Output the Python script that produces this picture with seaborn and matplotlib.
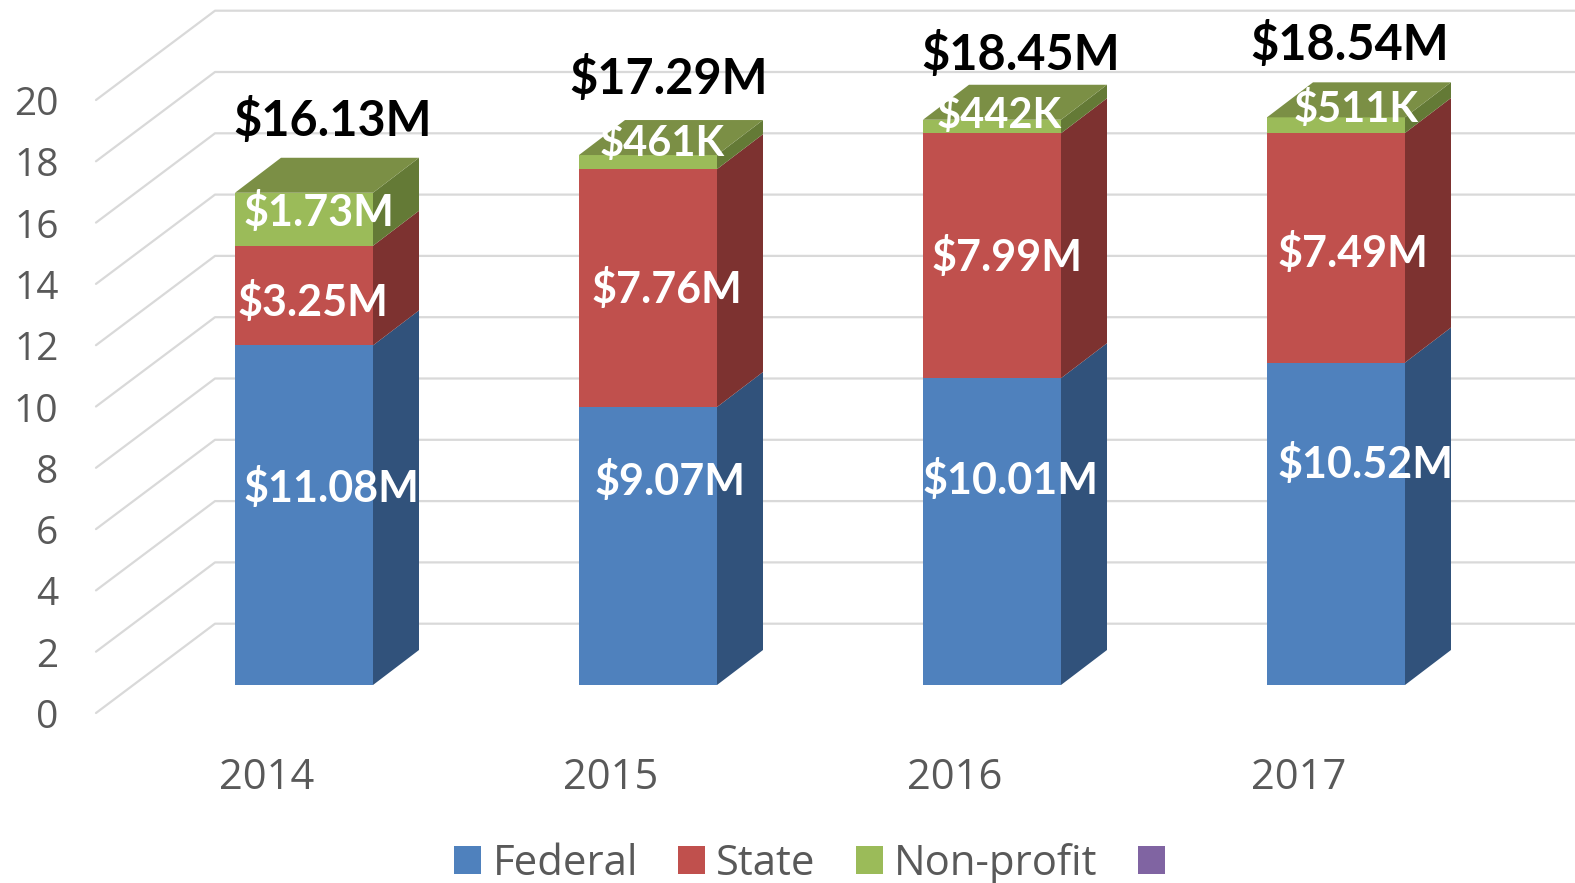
import matplotlib
matplotlib.use('Agg')
import matplotlib.pyplot as plt
from matplotlib.patches import Patch, Polygon
from matplotlib.transforms import ScaledTranslation
import numpy as np
import seaborn as sns

### Data
years = ['2014', '2015', '2016', '2017']
federal = [11.08, 9.07, 10.01, 10.52]
state = [3.25, 7.76, 7.99, 7.49]
nonprofit = [1.73, 0.461, 0.442, 0.511]
federal_labels = ['$11.08M', '$9.07M', '$10.01M', '$10.52M']
state_labels = ['$3.25M', '$7.76M', '$7.99M', '$7.49M']
nonprofit_labels = ['$1.73M', '$461K', '$442K', '$511K']
total_labels = ['$16.13M', '$17.29M', '$18.45M', '$18.54M']
legend_names = ['Federal', 'State', 'Non-profit', '']
y_ticks = [0, 2, 4, 6, 8, 10, 12, 14, 16, 18, 20]

### Layout, in pixels of the 1575x883 picture
W, H = 1575, 883
x_step = 344
first_bar = 304
base_y = 685
unit_y = 30.65
depth_x, depth_y = 46, 35
federal_pos = [(331.5, 488), (670, 481), (1010.5, 480), (1366, 464)]
state_pos = [(313, 302), (667, 289), (1007.5, 257), (1353, 253)]
nonprofit_pos = [(318.5, 212), (662, 144), (999.5, 116), (1356, 110)]
total_pos = [(332.5, 120), (669, 79), (1020.5, 55), (1350, 45)]

front = ['#4f81bd', '#c0504d', '#9bbb59']
side = ['#31527b', '#7d3230', '#647a36']
top_color = '#7b8f45'
purple = '#8064a2'
grid_color = '#d9d9d9'
text_color = '#595959'

sns.set_theme(style='white')
plt.rcParams['font.family'] = ['Open Sans', 'DejaVu Sans']

fig = plt.figure(figsize=(W / 100, H / 100), dpi=100)
ax = fig.add_axes([96 / W, 1 - base_y / H, 1 - 96 / W, 20 * unit_y / H])

bottoms = np.zeros(4)
seg_edges = []
for values, color in zip([federal, state, nonprofit], front):
    sns.barplot(x=years, y=values, bottom=bottoms, color=color, saturation=1,
                width=138 / x_step, linewidth=0, ax=ax, zorder=3)
    seg_edges.append((bottoms.copy(), bottoms + np.array(values)))
    bottoms = bottoms + np.array(values)

ax.set_xlim((96 - first_bar) / x_step, (W - first_bar) / x_step)
ax.set_ylim(0, 20)

### Fake 3d: side and top faces, from the same values
dx = depth_x / x_step
dy = depth_y / unit_y
half = 69 / x_step
for (low, high), color in zip(seg_edges, side):
    for i in range(4):
        r = i + half
        ax.add_patch(Polygon([(r, low[i]), (r, high[i]), (r + dx, high[i] + dy), (r + dx, low[i] + dy)],
                             closed=True, facecolor=color, edgecolor='none', clip_on=False, zorder=3))
for i in range(4):
    l, r = i - half, i + half
    ax.add_patch(Polygon([(l, bottoms[i]), (r, bottoms[i]), (r + dx, bottoms[i] + dy), (l + dx, bottoms[i] + dy)],
                         closed=True, facecolor=top_color, edgecolor='none', clip_on=False, zorder=3))

### Walls: diagonal on the left, then flat along the back
corner = (215 - first_bar) / x_step
left_end = (96 - first_bar) / x_step
right_end = (W - first_bar) / x_step
for v in y_ticks:
    ax.plot([left_end, corner, right_end], [v - 28 / unit_y, v + 2, v + 2], color=grid_color,
            lw=1.6, clip_on=False, zorder=1, solid_joinstyle='round')

### Axes text
sns.despine(ax=ax, left=True, bottom=True)
ax.set_xlabel('')
ax.set_ylabel('')
ax.set_yticks(y_ticks)
ax.tick_params(axis='y', length=0, pad=27, labelsize=28, labelcolor=text_color)
ax.tick_params(axis='x', length=0, pad=52, labelsize=30, labelcolor=text_color)
y_shift = ScaledTranslation(0, -28.5 / 100, fig.dpi_scale_trans)
x_shift = ScaledTranslation(-37 / 100, 0, fig.dpi_scale_trans)
for lab in ax.get_yticklabels():
    lab.set_transform(lab.get_transform() + y_shift)
for lab in ax.get_xticklabels():
    lab.set_transform(lab.get_transform() + x_shift)

### Value labels
def put_labels(labels, positions, color, size):
    for lab, (x, y) in zip(labels, positions):
        fig.text(x / W, 1 - y / H, lab, color=color, fontsize=size, fontweight='bold',
                 family=['Lato', 'DejaVu Sans'], ha='center', va='center', zorder=6)

put_labels(federal_labels, federal_pos, 'white', 31)
put_labels(state_labels, state_pos, 'white', 31)
put_labels(nonprofit_labels[:1], nonprofit_pos[:1], 'white', 31)
put_labels(nonprofit_labels[1:], nonprofit_pos[1:], 'white', 30)
put_labels(total_labels, total_pos, 'black', 35)

### Legend
handles = [Patch(facecolor=c, edgecolor='none') for c in front + [purple]]
ax.legend(handles, legend_names, loc='center', bbox_to_anchor=(815 / W, 1 - 864 / H),
          bbox_transform=fig.transFigure, ncol=4, frameon=False, fontsize=30.2,
          labelcolor=text_color, handlelength=0.65, handleheight=0.65,
          handletextpad=0.27, columnspacing=0.95, borderpad=0, borderaxespad=0)

fig.savefig('out.png', dpi=100)
